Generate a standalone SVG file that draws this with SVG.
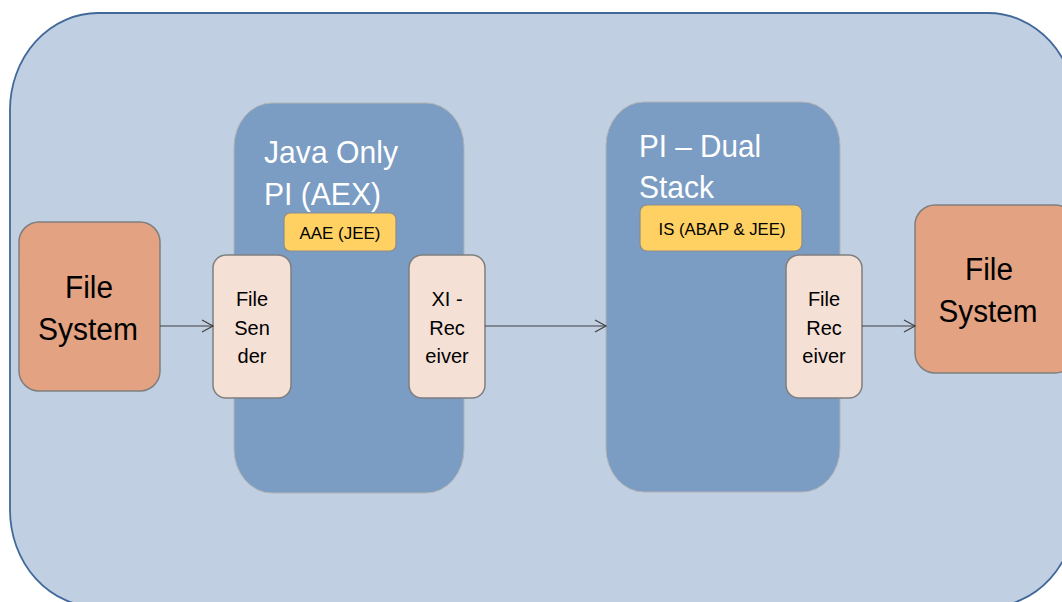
<svg xmlns="http://www.w3.org/2000/svg" width="1062" height="602" viewBox="0 0 1062 602">
  <defs>
    <style>
      .txt { font-family: "Liberation Sans", Arial, sans-serif; fill: #000; text-anchor: middle; }
      .title { font-family: "Liberation Sans", Arial, sans-serif; fill: #fff; font-size: 32px; }
      .pi { fill: #7b9cc3; stroke: #b4b4b4; stroke-width: 1; }
      .yel { fill: #ffd163; stroke: #8c8c8c; stroke-width: 1.2; }
      .adp { fill: #f5e0d6; stroke: #7f7f7f; stroke-width: 1.5; }
      .fs { fill: #e3a282; stroke: #7f7f7f; stroke-width: 1.5; }
      .conn { stroke: #404040; stroke-width: 1.2; fill: none; }
    </style>
    <marker id="arr" markerWidth="14" markerHeight="14" refX="12" refY="7" orient="auto" markerUnits="userSpaceOnUse">
      <path d="M1,1 L12,7 L1,13" fill="none" stroke="#404040" stroke-width="1.2"/>
    </marker>
  </defs>

  <g id="outer">
    <rect x="10" y="13" width="1066" height="594" rx="88" ry="97" fill="#c0cfe2" stroke="#41699a" stroke-width="1.8"/>
  </g>

  <g id="java-pi">
    <rect class="pi" x="234" y="103" width="230" height="390" rx="38" ry="44"/>
    <text class="title" x="264" y="163" textLength="134" lengthAdjust="spacingAndGlyphs">Java Only</text>
    <text class="title" x="264" y="205" textLength="117" lengthAdjust="spacingAndGlyphs">PI (AEX)</text>
  </g>

  <g id="dual-pi">
    <rect class="pi" x="606" y="102" width="234" height="390" rx="38" ry="44"/>
    <text class="title" x="639" y="157" textLength="122" lengthAdjust="spacingAndGlyphs">PI – Dual</text>
    <text class="title" x="639" y="198" textLength="75" lengthAdjust="spacingAndGlyphs">Stack</text>
  </g>

  <g id="aae">
    <rect class="yel" x="284" y="213" width="112" height="38" rx="6"/>
    <text class="txt" x="340" y="239" font-size="17" textLength="81" lengthAdjust="spacingAndGlyphs">AAE (JEE)</text>
  </g>

  <g id="is">
    <rect class="yel" x="640" y="205" width="162" height="46" rx="7"/>
    <text class="txt" x="722" y="235" font-size="17" textLength="127" lengthAdjust="spacingAndGlyphs">IS (ABAP &amp; JEE)</text>
  </g>

  <g id="fs-left">
    <rect class="fs" x="19" y="222" width="141" height="169" rx="20"/>
    <text class="txt" x="89" y="298" font-size="31" textLength="48" lengthAdjust="spacingAndGlyphs">File</text>
    <text class="txt" x="88" y="340" font-size="31" textLength="100" lengthAdjust="spacingAndGlyphs">System</text>
  </g>

  <g id="file-sender">
    <rect class="adp" x="213" y="255" width="78" height="143" rx="13"/>
    <text class="txt" x="252" y="306" font-size="20">File</text>
    <text class="txt" x="252" y="335" font-size="20">Sen</text>
    <text class="txt" x="252" y="363" font-size="20">der</text>
  </g>

  <g id="xi-receiver">
    <rect class="adp" x="409" y="255" width="76" height="143" rx="13"/>
    <text class="txt" x="447" y="306" font-size="20">XI -</text>
    <text class="txt" x="447" y="335" font-size="20">Rec</text>
    <text class="txt" x="447" y="363" font-size="20">eiver</text>
  </g>

  <g id="file-receiver">
    <rect class="adp" x="786" y="255" width="76" height="143" rx="13"/>
    <text class="txt" x="824" y="306" font-size="20">File</text>
    <text class="txt" x="824" y="335" font-size="20">Rec</text>
    <text class="txt" x="824" y="363" font-size="20">eiver</text>
  </g>

  <g id="fs-right">
    <rect class="fs" x="915" y="205" width="160" height="168" rx="20"/>
    <text class="txt" x="989" y="280" font-size="31" textLength="48" lengthAdjust="spacingAndGlyphs">File</text>
    <text class="txt" x="988" y="322" font-size="31" textLength="99" lengthAdjust="spacingAndGlyphs">System</text>
  </g>

  <g id="connectors">
    <line class="conn" x1="160" y1="326" x2="213" y2="326" marker-end="url(#arr)"/>
    <line class="conn" x1="485" y1="326" x2="606" y2="326" marker-end="url(#arr)"/>
    <line class="conn" x1="862" y1="326" x2="915" y2="326" marker-end="url(#arr)"/>
  </g>
</svg>
